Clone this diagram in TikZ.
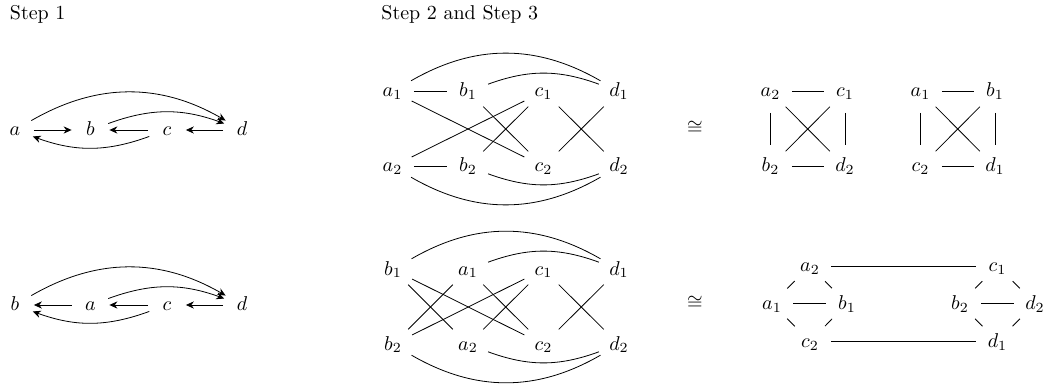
\documentclass[tikz,border=0pt]{standalone}
\usetikzlibrary{arrows.meta}
\begin{document}
\begin{tikzpicture}[x=0.5pt,y=-0.5pt,
  v/.style={circle,inner sep=0pt,minimum size=21pt,text height=7pt,text depth=1.5pt},
  u/.style={circle,inner sep=0pt,minimum size=18.5pt,text height=7pt,text depth=1.5pt},
  arr/.style={-{Stealth[length=4pt,width=3.6pt]}},
  lbl/.style={inner sep=0pt,anchor=base west}]
\useasboundingbox (0,0) rectangle (1045,385);
% titles
\node[lbl] (t1) at (9.5,20) {Step 1};
\node[lbl] (t2) at (381,20) {Step 2 and Step 3};
% step 1, row 1
\node[u] (pa) at (15,130) {$a$};
\node[u] (pb) at (90.5,130) {$b$};
\node[u] (pc) at (167,130) {$c$};
\node[u] (pd) at (242,130) {$d$};
\draw[arr] (pa) -- (pb);
\draw[arr] (pc) -- (pb);
\draw[arr] (pd) -- (pc);
\draw[arr] (pa) to[bend left=30] (pd);
\draw[arr] (pb) to[bend left=20] (pd);
\draw[arr] (pc) to[bend left=20] (pa);
% step 1, row 2
\node[u] (qb) at (15,305) {$b$};
\node[u] (qa) at (90.5,305) {$a$};
\node[u] (qc) at (167,305) {$c$};
\node[u] (qd) at (242,305) {$d$};
\draw[arr] (qa) -- (qb);
\draw[arr] (qc) -- (qa);
\draw[arr] (qd) -- (qc);
\draw[arr] (qb) to[bend left=30] (qd);
\draw[arr] (qa) to[bend left=20] (qd);
\draw[arr] (qc) to[bend left=20] (qb);
% middle top graph
\node[v] (ta1) at (392.5,91.5) {$a_1$};
\node[v] (tb1) at (468,91.5) {$b_1$};
\node[v] (tc1) at (543.5,91.5) {$c_1$};
\node[v] (td1) at (619,91.5) {$d_1$};
\node[v] (ta2) at (392.5,166.5) {$a_2$};
\node[v] (tb2) at (468,166.5) {$b_2$};
\node[v] (tc2) at (543.5,166.5) {$c_2$};
\node[v] (td2) at (619,166.5) {$d_2$};
\draw (ta1) -- (tb1);
\draw (ta2) -- (tb2);
\draw (ta1) -- (tc2);
\draw (ta2) -- (tc1);
\draw (tb1) -- (tc2);
\draw (tb2) -- (tc1);
\draw (tc1) -- (td2);
\draw (tc2) -- (td1);
\draw (ta1) to[bend left=30] (td1);
\draw (tb1) to[bend left=20] (td1);
\draw (ta2) to[bend right=30] (td2);
\draw (tb2) to[bend right=20] (td2);
% middle bottom graph
\node[v] (bb1) at (393,269.5) {$b_1$};
\node[v] (ba1) at (468,269.5) {$a_1$};
\node[v] (bc1) at (543.5,269.5) {$c_1$};
\node[v] (bd1) at (619,269.5) {$d_1$};
\node[v] (bb2) at (393,344.5) {$b_2$};
\node[v] (ba2) at (468,344.5) {$a_2$};
\node[v] (bc2) at (543.5,344.5) {$c_2$};
\node[v] (bd2) at (619,344.5) {$d_2$};
\draw (bb1) -- (ba2);
\draw (bb2) -- (ba1);
\draw (bb1) -- (bc2);
\draw (bb2) -- (bc1);
\draw (ba1) -- (bc2);
\draw (ba2) -- (bc1);
\draw (bc1) -- (bd2);
\draw (bc2) -- (bd1);
\draw (bb1) to[bend left=30] (bd1);
\draw (ba1) to[bend left=20] (bd1);
\draw (bb2) to[bend right=30] (bd2);
\draw (ba2) to[bend right=20] (bd2);
% isomorphism signs
\node (iso1) at (695,128) {$\cong$};
\node (iso2) at (695,303) {$\cong$};
% right top, first square
\node[v] (ra2) at (770.5,91.5) {$a_2$};
\node[v] (rc1) at (845,91.5) {$c_1$};
\node[v] (rb2) at (770.5,166.5) {$b_2$};
\node[v] (rd2) at (845,166.5) {$d_2$};
\draw (ra2) -- (rc1);
\draw (rb2) -- (rd2);
\draw (ra2) -- (rb2);
\draw (rc1) -- (rd2);
\draw (ra2) -- (rd2);
\draw (rc1) -- (rb2);
% right top, second square
\node[v] (sa1) at (920.5,91.5) {$a_1$};
\node[v] (sb1) at (995,91.5) {$b_1$};
\node[v] (sc2) at (920.5,166.5) {$c_2$};
\node[v] (sd1) at (995,166.5) {$d_1$};
\draw (sa1) -- (sb1);
\draw (sc2) -- (sd1);
\draw (sa1) -- (sc2);
\draw (sb1) -- (sd1);
\draw (sa1) -- (sd1);
\draw (sb1) -- (sc2);
% right bottom graph
\node[v] (wa2) at (810,266) {$a_2$};
\node[v] (wa1) at (772,303.5) {$a_1$};
\node[v] (wb1) at (847,303.5) {$b_1$};
\node[v] (wc2) at (810,341.5) {$c_2$};
\node[v] (wc1) at (997.5,266) {$c_1$};
\node[v] (wb2) at (960,303.5) {$b_2$};
\node[v] (wd2) at (1035,303.5) {$d_2$};
\node[v] (wd1) at (997.5,341.5) {$d_1$};
\draw (wa2) -- (wc1);
\draw (wc2) -- (wd1);
\draw (wa1) -- (wb1);
\draw (wb2) -- (wd2);
\draw (wa2) -- (wa1);
\draw (wa2) -- (wb1);
\draw (wa1) -- (wc2);
\draw (wb1) -- (wc2);
\draw (wc1) -- (wb2);
\draw (wc1) -- (wd2);
\draw (wb2) -- (wd1);
\draw (wd2) -- (wd1);
\end{tikzpicture}
\end{document}
